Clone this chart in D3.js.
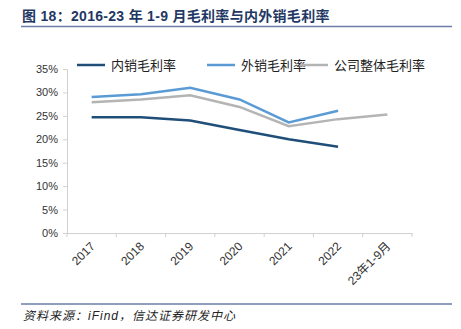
<!DOCTYPE html>
<html><head><meta charset="utf-8">
<script src="https://cdn.jsdelivr.net/npm/d3@7/dist/d3.min.js"></script>
<style>
body{margin:0;background:#fff;}
svg{display:block;}
</style></head>
<body>
<svg id="c" width="461" height="329"></svg>
<script>
const categories = ["2017","2018","2019","2020","2021","2022","23年1-9月"];
const domesticMargin = [24.7, 24.7, 24.0, 22.0, 20.0, 18.4, null];
const exportMargin   = [29.0, 29.6, 31.0, 28.5, 23.6, 26.1, null];
const overallMargin  = [27.9, 28.5, 29.4, 26.9, 22.8, 24.3, 25.3];
const yTicks = [0,5,10,15,20,25,30,35];
const seriesNames = ["内销毛利率","外销毛利率","公司整体毛利率"];
const seriesColors = ["#1f4e79","#5b9bd5","#b4b4b4"];
const titleText = "图 18：2016-23 年 1-9 月毛利率与内外销毛利率";
const sourceText = "资料来源：iFind，信达证券研发中心";

const svg = d3.select("#c");
const fontNum = "'Liberation Sans', Arial, sans-serif";
const fontCJK = "'Liberation Sans','Noto Sans CJK SC', sans-serif";

// title
svg.append("text").attr("x",22).attr("y",21)
  .attr("font-family",fontCJK).attr("font-weight","bold").attr("font-size",14)
  .attr("letter-spacing",0.3)
  .attr("fill","#1f3864").text(titleText);
svg.append("line").attr("x1",21).attr("x2",452).attr("y1",26.5).attr("y2",26.5)
  .attr("stroke","#6b7ea8").attr("stroke-width",1.5);

// footer
svg.append("line").attr("x1",21).attr("x2",452).attr("y1",304).attr("y2",304)
  .attr("stroke","#6b7ea8").attr("stroke-width",1.5);
svg.append("text").attr("x",23).attr("y",320)
  .attr("font-family",fontCJK).attr("font-style","italic").attr("font-size",12)
  .attr("letter-spacing",1)
  .attr("fill","#222").text(sourceText);

const x = d3.scaleBand().domain(categories).range([67,412]);
const y = d3.scaleLinear().domain([0,35]).range([233,69]);

// y axis
const yAxis = svg.append("g").attr("transform","translate(67,0)")
  .call(d3.axisLeft(y).tickValues(yTicks).tickFormat(d=>d+"%").tickSizeOuter(0).tickSize(4));
yAxis.select(".domain").attr("stroke","#d0d0d0");
yAxis.selectAll(".tick line").attr("stroke","#d0d0d0");
yAxis.selectAll("text").attr("font-family",fontNum).attr("font-size",11).attr("fill","#333").attr("x",-9);

// x axis
const xAxis = svg.append("g").attr("transform","translate(0,233)")
  .call(d3.axisBottom(x).tickSize(0).tickSizeOuter(0));
xAxis.select(".domain").attr("stroke","#d0d0d0");
const bounds = categories.map(c=>x(c)).concat([x.range()[1]]);
xAxis.selectAll(".bt").data(bounds).enter().append("line")
  .attr("x1",d=>d).attr("x2",d=>d).attr("y1",0).attr("y2",4).attr("stroke","#d0d0d0");
xAxis.selectAll(".tick text")
  .attr("font-family",fontCJK).attr("font-size",12).attr("fill","#333")
  .attr("text-anchor","end").attr("dy",0).attr("y",0)
  .attr("transform","translate(4,14) rotate(-45)");

// lines
const data = [domesticMargin, exportMargin, overallMargin];
const line = d3.line().defined(d=>d.v!=null).x(d=>x(d.c)+x.bandwidth()/2).y(d=>y(d.v));
data.forEach((arr,i)=>{
  const pts = categories.map((c,j)=>({c, v:arr[j]}));
  svg.append("path").datum(pts).attr("d",line).attr("fill","none")
    .attr("stroke",seriesColors[i]).attr("stroke-width",2.5);
});

// legend
const legX = [77,207,300];
seriesNames.forEach((n,i)=>{
  svg.append("line").attr("x1",legX[i]).attr("x2",legX[i]+28).attr("y1",65).attr("y2",65)
    .attr("stroke",seriesColors[i]).attr("stroke-width",2.5);
  svg.append("text").attr("x",legX[i]+34).attr("y",69.5)
    .attr("font-family",fontCJK).attr("font-size",13).attr("fill","#222").text(n);
});
</script>
</body></html>
